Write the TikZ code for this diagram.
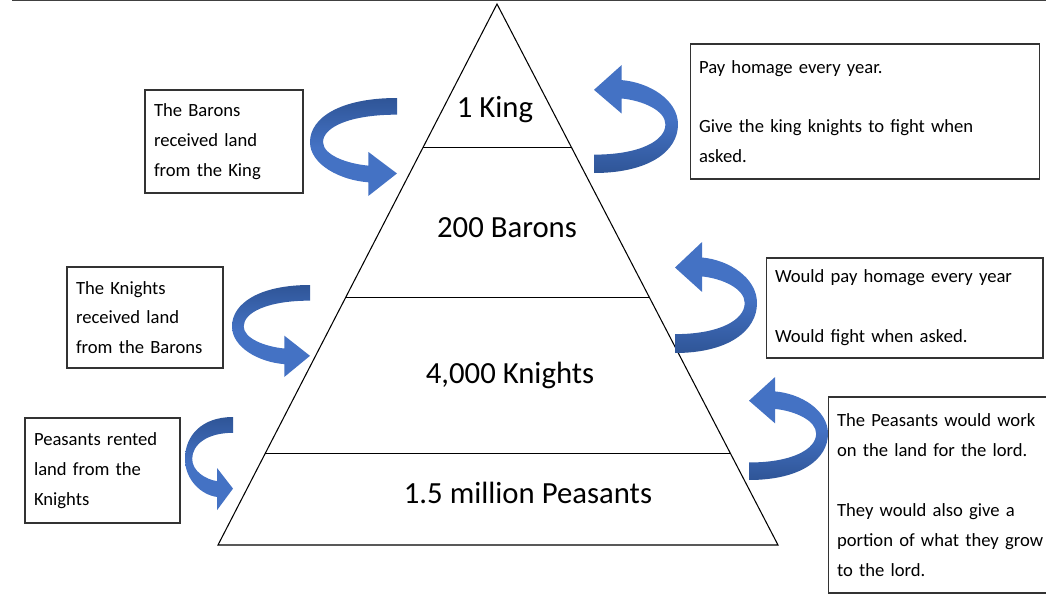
\documentclass[tikz,border=0pt]{standalone}
\usepackage{fontspec}
\setmainfont{Carlito}
\usepackage{tikz}
\usetikzlibrary{positioning}
\usetikzlibrary{calc}
\definecolor{arrowblue}{HTML}{4472C4}
\definecolor{arrowdark}{HTML}{2F5597}
\tikzstyle{level} = [font=\fontsize{17.5}{21}\selectfont]
\tikzstyle{note} = [draw=black!80, line width=0.6pt, align=left, inner xsep=0.18cm, inner ysep=0pt, font=\fontsize{10.6}{17}\selectfont]
\tikzstyle{curl} = [top color=arrowdark, bottom color=arrowblue, middle color=arrowblue]
\tikzstyle{curlr} = [top color=arrowblue, bottom color=arrowdark, middle color=arrowblue]
% one curled arrow, drawn in a 100x100 box, tail top right, head bottom right
\newcommand\curlarrow[2]{%
\begin{scope}[#1]
\path[#2] (100,0) .. controls (35,0) and (0,20) .. (0,45) .. controls (0,68) and (35,84) .. (67,86)
  -- (67,100) -- (100,77) -- (67,55) -- (67,69)
  .. controls (42,67) and (15,58) .. (15,45) .. controls (15,30) and (45,17) .. (100,17) -- cycle;
\end{scope}}

\begin{document}
\begin{tikzpicture}[x=0.02cm, y=-0.02cm] %[every node/.style={draw}]
\useasboundingbox (0,0) rectangle (1046,595);
\draw[black!75, line width=0.9pt] (12,0) -- (1046,0);
% the pyramid
\coordinate (top) at (497,4);
\coordinate (bl) at (218,545);
\coordinate (br) at (778,545);
\draw[line width=0.6pt] (top) -- (bl) -- (br) -- cycle;
\draw[line width=0.6pt] ($(top)!0.266!(bl)$) -- ($(top)!0.266!(br)$);
\draw[line width=0.6pt] ($(top)!0.543!(bl)$) -- ($(top)!0.543!(br)$);
\draw[line width=0.6pt] ($(top)!0.830!(bl)$) -- ($(top)!0.830!(br)$);
\node[level] (king) at (495,110) {1 King};
\node[level] (barons) at (507,228) {200 Barons};
\node[level] (knights) at (510,375) {4,000 Knights};
\node[level] (peasants) at (528,493) {1.5 million Peasants};
% the boxes
\node[note, text width=2.8cm, minimum height=2.06cm] (landking) at (224,141.5) {The Barons\\received land\\from the King};
\node[note, text width=6.64cm, minimum height=2.7cm] (homage) at (865,111.5) {Pay homage every year.\\[17pt]Give the king knights to fight when\\asked.};
\node[note, text width=2.76cm, minimum height=2.02cm] (landbarons) at (145,317.5) {The Knights\\received land\\from the Barons};
\node[note, text width=5.18cm, minimum height=2cm] (fight) at (904.5,308) {Would pay homage every year\\[17pt]Would fight when asked.};
\node[note, text width=2.74cm, minimum height=2.1cm] (rented) at (102.5,470.5) {Peasants rented\\land from the\\Knights};
\node[note, text width=4.28cm, minimum height=3.92cm] (work) at (944,495) {The Peasants would work\\on the land for the lord.\\[17pt]They would also give a\\portion of what they grow\\to the lord.};
% the arrows
\curlarrow{shift={(310,98)}, xscale=0.87, yscale=0.98}{curl}
\curlarrow{shift={(678,173)}, xscale=-0.84, yscale=-1.08}{curlr}
\curlarrow{shift={(232,285)}, xscale=0.78, yscale=0.92}{curl}
\curlarrow{shift={(757,353)}, xscale=-0.82, yscale=-1.11}{curlr}
\curlarrow{shift={(185,417)}, xscale=0.48, yscale=0.93}{curl}
\curlarrow{shift={(828,480)}, xscale=-0.79, yscale=-1.03}{curlr}
\end{tikzpicture}
\end{document}
